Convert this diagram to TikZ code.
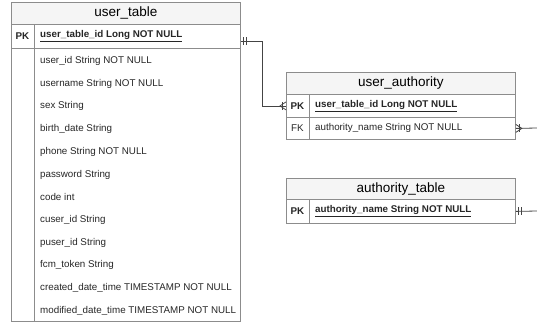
\documentclass[tikz,border=0pt]{standalone}
\usepackage{fontspec}
\setmainfont{Liberation Sans}
\usetikzlibrary{calc}

\definecolor{headgray}{HTML}{F5F5F5}
\definecolor{framegray}{HTML}{8C8C8C}
\definecolor{linegray}{HTML}{444444}

\tikzset{
  cell/.style={draw=framegray, line width=0.8pt, anchor=north west, inner sep=0pt, minimum width=229},
  headcell/.style={cell, fill=headgray, minimum height=22, font=\fontsize{13.5}{15}\selectfont},
  field/.style={anchor=west, inner sep=0pt, text=black!85, font=\fontsize{9.8}{11}\selectfont},
  keyfield/.style={field, font=\fontsize{9.8}{11}\selectfont\bfseries},
  rel/.style={draw=linegray, line width=0.8pt},
  pics/mandone/.style={code={
    \draw[rel] (3,-4) -- (3,4);
    \draw[rel] (5.5,-4) -- (5.5,4);
  }},
  pics/onemany/.style={code={
    \draw[rel] (0,-4) -- (6,0) -- (0,4);
    \draw[rel] (4,-4) -- (4,4);
  }}
}

\begin{document}
\begin{tikzpicture}[x=1pt,y=-1pt]
	\useasboundingbox (0,0) rectangle (537,325);

	% user_table
	\node[headcell] (ut) at (11,2) {user\_table};
	\node[cell, minimum height=24] (utpk) at (11,24) {};
	\node[cell, minimum height=273] (utbody) at (11,48) {};
	\draw[framegray, line width=0.8pt] ($(utpk.north west)+(23,0)$) -- ($(utbody.south west)+(23,0)$);
	\node[keyfield, anchor=center] (utk) at ($(utpk.west)+(11.5,0)$) {PK};
	\node[keyfield] (utid) at ($(utpk.west)+(29,0)$) {\underline{user\_table\_id Long NOT NULL}};
	\foreach \f [count=\i from 0] in {user\_id String NOT NULL, username String NOT NULL, sex String,
		birth\_date String, phone String NOT NULL, password String, code int, cuser\_id String,
		puser\_id String, fcm\_token String, created\_date\_time TIMESTAMP NOT NULL,
		modified\_date\_time TIMESTAMP NOT NULL}
		\node[field] (utf\i) at (40,61+22.7*\i) {\f};

	% user_authority
	\node[headcell] (ua) at (286,72) {user\_authority};
	\node[cell, minimum height=23] (uapk) at (286,94) {};
	\node[cell, minimum height=22] (uafk) at (286,117) {};
	\draw[framegray, line width=0.8pt] ($(uapk.north west)+(23,0)$) -- ($(uafk.south west)+(23,0)$);
	\node[keyfield, anchor=center] (uak) at ($(uapk.west)+(11.5,0)$) {PK};
	\node[keyfield] (uaid) at ($(uapk.west)+(29,0)$) {\underline{user\_table\_id Long NOT NULL}};
	\node[field, anchor=center] (uafkk) at ($(uafk.west)+(11.5,0)$) {FK};
	\node[field] (uaname) at ($(uafk.west)+(29,0)$) {authority\_name String NOT NULL};

	% authority_table
	\node[headcell, minimum height=21] (at) at (286,178) {authority\_table};
	\node[cell, minimum height=24] (atpk) at (286,199) {};
	\draw[framegray, line width=0.8pt] ($(atpk.north west)+(23,0)$) -- ($(atpk.south west)+(23,0)$);
	\node[keyfield, anchor=center] (atk) at ($(atpk.west)+(11.5,0)$) {PK};
	\node[keyfield] (atname) at ($(atpk.west)+(29,0)$) {\underline{authority\_name String NOT NULL}};

	% relations
	\draw[rel] ([yshift=-5pt]utpk.east) -- ++(22,0) |- (uapk.west);
	\pic at ([yshift=-5pt]utpk.east) {mandone};
	\pic[rotate=180] at (uapk.west) {onemany};

	\coordinate (fkend) at (537,128);
	\draw[rel] (uafk.east) -- (fkend);
	\pic at (uafk.east) {onemany};

	\coordinate (atend) at (537,211);
	\draw[rel] (atpk.east) -- (atend);
	\pic at (atpk.east) {mandone};

\end{tikzpicture}
\end{document}
